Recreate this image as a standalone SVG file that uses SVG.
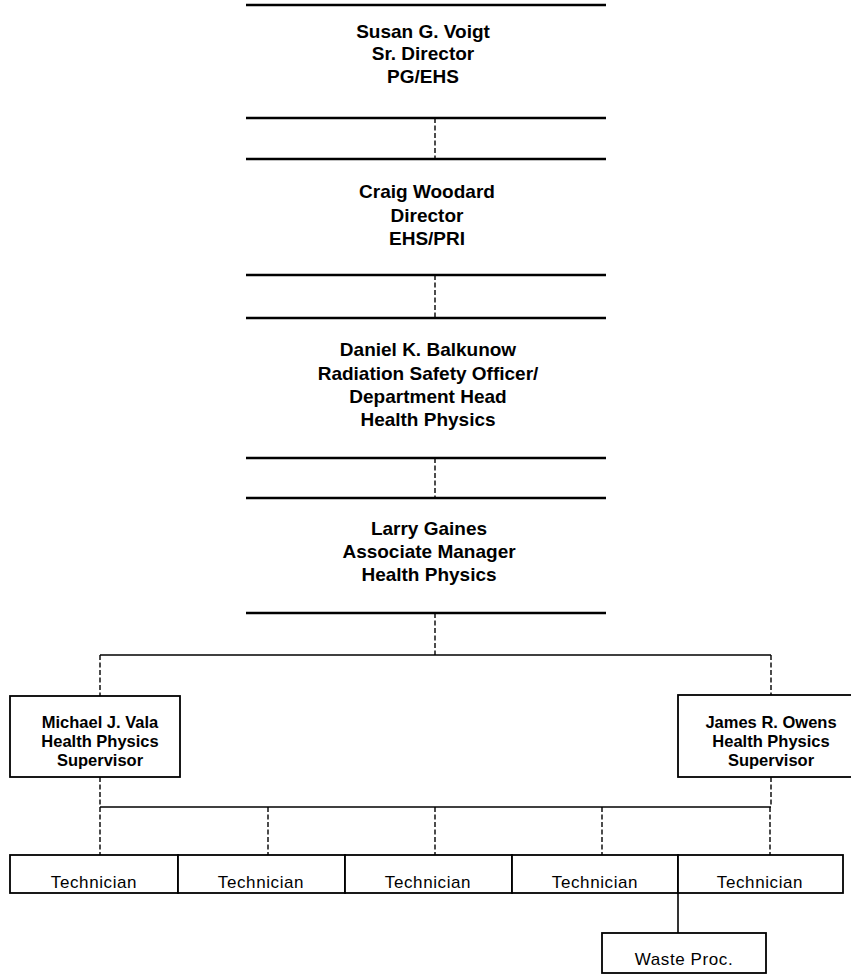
<svg xmlns="http://www.w3.org/2000/svg" width="851" height="974" viewBox="0 0 851 974">
<style>
.big{fill:#fff;stroke:#000;stroke-width:2.4}
.box{fill:#fff;stroke:#000;stroke-width:1.8}
.t{font-family:"Liberation Sans",Arial,sans-serif;font-weight:bold;font-size:19px;text-anchor:middle;fill:#000}
.s{font-family:"Liberation Sans",Arial,sans-serif;font-weight:bold;font-size:16.5px;text-anchor:middle;fill:#000}
.r{font-family:"Liberation Sans",Arial,sans-serif;font-size:17px;letter-spacing:0.6px;text-anchor:middle;fill:#000}
.dash{stroke:#000;stroke-width:1.4;stroke-dasharray:5 2.5;fill:none}
.solid{stroke:#000;stroke-width:1.6;fill:none}
</style>
<rect width="851" height="974" fill="#fff"/>
<g id="connectors">
<line class="dash" x1="435" y1="118" x2="435" y2="159"/>
<line class="dash" x1="435" y1="275" x2="435" y2="318"/>
<line class="dash" x1="435" y1="458" x2="435" y2="498"/>
<line class="dash" x1="435" y1="613" x2="435" y2="655"/>
<line class="solid" x1="100" y1="655" x2="771" y2="655"/>
<line class="dash" x1="100" y1="655" x2="100" y2="696"/>
<line class="dash" x1="771" y1="655" x2="771" y2="695"/>
<line class="dash" x1="100" y1="777" x2="100" y2="807"/>
<line class="dash" x1="771" y1="777" x2="771" y2="807"/>
<line class="solid" x1="100" y1="807" x2="771" y2="807"/>
<line class="dash" x1="100" y1="807" x2="100" y2="855"/>
<line class="dash" x1="268" y1="807" x2="268" y2="855"/>
<line class="dash" x1="435" y1="807" x2="435" y2="855"/>
<line class="dash" x1="602" y1="807" x2="602" y2="855"/>
<line class="dash" x1="770" y1="807" x2="770" y2="855"/>
<line class="solid" x1="678" y1="893" x2="678" y2="933"/>
</g>
<g id="voigt">
<rect class="big" x="246" y="5" width="360" height="113" stroke-dasharray="360 113"/>
<text class="t" x="423" y="38">Susan G. Voigt</text>
<text class="t" x="423" y="60">Sr. Director</text>
<text class="t" x="423" y="83">PG/EHS</text>
</g>
<g id="woodard">
<rect class="big" x="246" y="159" width="360" height="116" stroke-dasharray="360 116"/>
<text class="t" x="427" y="198">Craig Woodard</text>
<text class="t" x="427" y="222">Director</text>
<text class="t" x="427" y="245">EHS/PRI</text>
</g>
<g id="balkunow">
<rect class="big" x="246" y="318" width="360" height="140" stroke-dasharray="360 140"/>
<text class="t" x="428" y="356">Daniel K. Balkunow</text>
<text class="t" x="428" y="380">Radiation Safety Officer/</text>
<text class="t" x="428" y="403">Department Head</text>
<text class="t" x="428" y="426">Health Physics</text>
</g>
<g id="gaines">
<rect class="big" x="246" y="498" width="360" height="115" stroke-dasharray="360 115"/>
<text class="t" x="429" y="535">Larry Gaines</text>
<text class="t" x="429" y="558">Associate Manager</text>
<text class="t" x="429" y="581">Health Physics</text>
</g>
<g id="vala">
<rect class="box" x="10" y="696" width="170" height="81"/>
<text class="s" x="100" y="728">Michael J. Vala</text>
<text class="s" x="100" y="747">Health Physics</text>
<text class="s" x="100" y="766">Supervisor</text>
</g>
<g id="owens">
<rect class="box" x="678" y="695" width="190" height="82"/>
<text class="s" x="771" y="728">James R. Owens</text>
<text class="s" x="771" y="747">Health Physics</text>
<text class="s" x="771" y="766">Supervisor</text>
</g>
<g id="tech1">
<rect class="box" x="10" y="855" width="168" height="38"/>
<text class="r" x="94" y="888">Technician</text>
</g>
<g id="tech2">
<rect class="box" x="178" y="855" width="167" height="38"/>
<text class="r" x="261" y="888">Technician</text>
</g>
<g id="tech3">
<rect class="box" x="345" y="855" width="167" height="38"/>
<text class="r" x="428" y="888">Technician</text>
</g>
<g id="tech4">
<rect class="box" x="512" y="855" width="166" height="38"/>
<text class="r" x="595" y="888">Technician</text>
</g>
<g id="tech5">
<rect class="box" x="678" y="855" width="165" height="38"/>
<text class="r" x="760" y="888">Technician</text>
</g>
<g id="waste">
<rect class="box" x="602" y="933" width="164" height="40"/>
<text class="r" x="684" y="965">Waste Proc.</text>
</g>
</svg>
